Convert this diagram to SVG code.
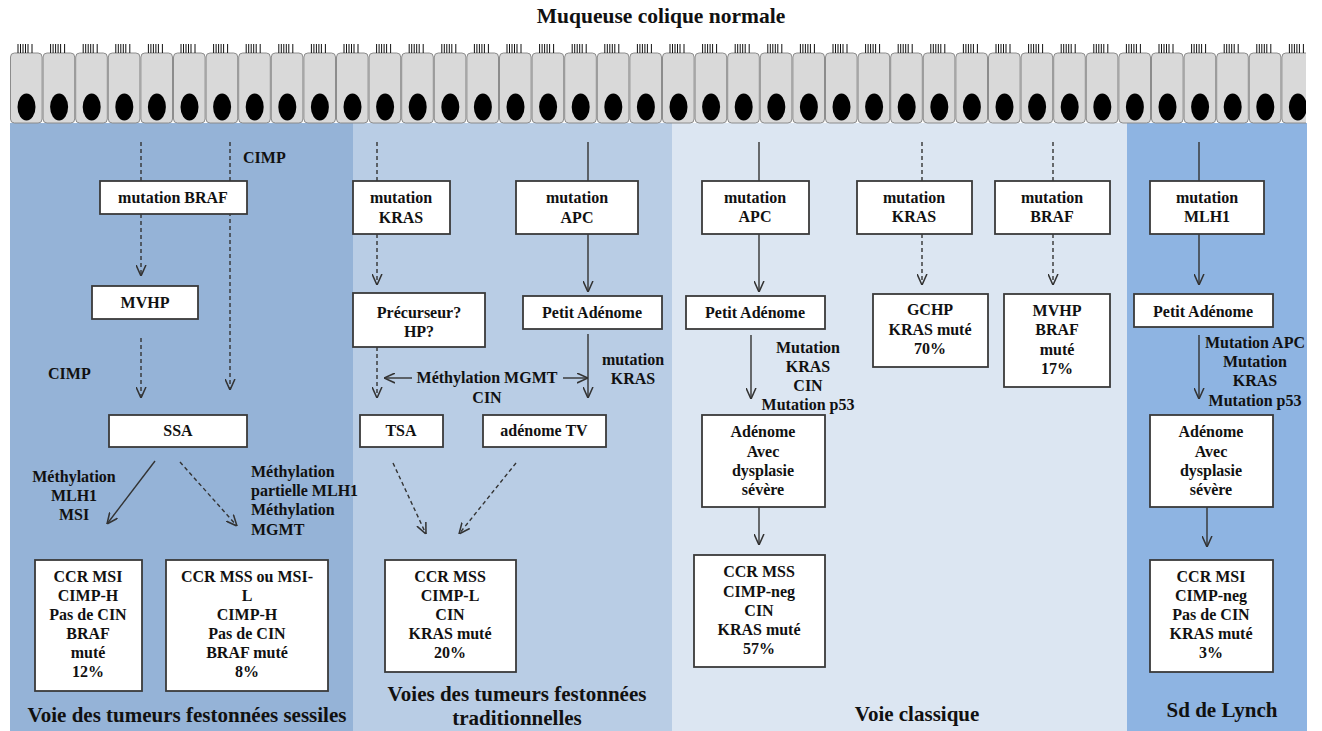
<svg xmlns="http://www.w3.org/2000/svg" width="1322" height="731" viewBox="0 0 1322 731">
<style>
.t{font-family:"Liberation Serif","Times New Roman","DejaVu Serif",serif;font-weight:bold;font-size:16px;fill:#111;text-anchor:middle}
.l{text-anchor:start}
.big{font-size:21px}
.title{font-size:21.5px}
.box{fill:#fff;stroke:#3a3a3a;stroke-width:1.8}
.c{fill:none;stroke:#333;stroke-width:1.4}
.d{stroke-dasharray:4 3}
.cellr{fill:#d9d9d9;stroke:#8c8c8c;stroke-width:1}
.cil{stroke:#111;stroke-width:1}
</style>
<defs>
<marker id="ah" viewBox="0 0 10 10" refX="10" refY="5" markerWidth="11" markerHeight="11" markerUnits="userSpaceOnUse" orient="auto">
<path d="M0,0.5 L10,5 L0,9.5" fill="none" stroke="#333" stroke-width="1.4"/>
</marker>
<g id="cell">
<rect class="cellr" x="0.5" y="0" width="31.6" height="70" rx="4"/>
<ellipse cx="16.5" cy="54" rx="9" ry="13.5" fill="#000"/>
<path class="cil" d="M8,-9V0M10.5,-9V0M13,-9V0M15.5,-9V0M18,-9V0M22,-9V0"/>
</g>
<clipPath id="cp"><rect x="0" y="0" width="1306" height="731"/></clipPath>
</defs>
<rect width="1322" height="731" fill="#fff"/>
<g id="bands">
<rect x="10" y="123" width="343" height="608" fill="#95b3d7"/>
<rect x="353" y="123" width="319" height="608" fill="#b9cde5"/>
<rect x="672" y="123" width="455" height="608" fill="#dce6f2"/>
<rect x="1127" y="123" width="180" height="608" fill="#8eb4e2"/>
</g>
<text class="t title" x="661" y="23">Muqueuse colique normale</text>
<g id="epithelium" clip-path="url(#cp)">
<use href="#cell" x="10" y="53"/><use href="#cell" x="42.6" y="53"/><use href="#cell" x="75.2" y="53"/><use href="#cell" x="107.8" y="53"/><use href="#cell" x="140.4" y="53"/><use href="#cell" x="173" y="53"/><use href="#cell" x="205.6" y="53"/><use href="#cell" x="238.2" y="53"/><use href="#cell" x="270.8" y="53"/><use href="#cell" x="303.4" y="53"/>
<use href="#cell" x="336" y="53"/><use href="#cell" x="368.6" y="53"/><use href="#cell" x="401.2" y="53"/><use href="#cell" x="433.8" y="53"/><use href="#cell" x="466.4" y="53"/><use href="#cell" x="499" y="53"/><use href="#cell" x="531.6" y="53"/><use href="#cell" x="564.2" y="53"/><use href="#cell" x="596.8" y="53"/><use href="#cell" x="629.4" y="53"/>
<use href="#cell" x="662" y="53"/><use href="#cell" x="694.6" y="53"/><use href="#cell" x="727.2" y="53"/><use href="#cell" x="759.8" y="53"/><use href="#cell" x="792.4" y="53"/><use href="#cell" x="825" y="53"/><use href="#cell" x="857.6" y="53"/><use href="#cell" x="890.2" y="53"/><use href="#cell" x="922.8" y="53"/><use href="#cell" x="955.4" y="53"/>
<use href="#cell" x="988" y="53"/><use href="#cell" x="1020.6" y="53"/><use href="#cell" x="1053.2" y="53"/><use href="#cell" x="1085.8" y="53"/><use href="#cell" x="1118.4" y="53"/><use href="#cell" x="1151" y="53"/><use href="#cell" x="1183.6" y="53"/><use href="#cell" x="1216.2" y="53"/><use href="#cell" x="1248.8" y="53"/><use href="#cell" x="1281.4" y="53"/>
</g>
<g id="connectors">
<path class="c d" d="M141,142V181"/>
<path class="c d" d="M141,214V276" marker-end="url(#ah)"/>
<path class="c d" d="M230,142V390" marker-end="url(#ah)"/>
<path class="c d" d="M141,338V398" marker-end="url(#ah)"/>
<path class="c" d="M155,461L107,524" marker-end="url(#ah)"/>
<path class="c d" d="M180,462L237,526" marker-end="url(#ah)"/>
<path class="c d" d="M377,142V181"/>
<path class="c d" d="M377,234V285" marker-end="url(#ah)"/>
<path class="c d" d="M377,347V398" marker-end="url(#ah)"/>
<path class="c" d="M588,142V181"/>
<path class="c" d="M588,234V292" marker-end="url(#ah)"/>
<path class="c" d="M588,334V398" marker-end="url(#ah)"/>
<path class="c" d="M412,378H384" marker-end="url(#ah)"/>
<path class="c" d="M563,378H588" marker-end="url(#ah)"/>
<path class="c d" d="M393,463L426,534" marker-end="url(#ah)"/>
<path class="c d" d="M516,463L459,534" marker-end="url(#ah)"/>
<path class="c" d="M759,142V181"/>
<path class="c" d="M759,234V292" marker-end="url(#ah)"/>
<path class="c" d="M751,335V399" marker-end="url(#ah)"/>
<path class="c" d="M759,507V545" marker-end="url(#ah)"/>
<path class="c d" d="M922,142V181"/>
<path class="c d" d="M922,234V285" marker-end="url(#ah)"/>
<path class="c d" d="M1053,142V181"/>
<path class="c d" d="M1053,234V285" marker-end="url(#ah)"/>
<path class="c" d="M1199,142V181"/>
<path class="c" d="M1199,234V285" marker-end="url(#ah)"/>
<path class="c" d="M1199,335V399" marker-end="url(#ah)"/>
<path class="c" d="M1207,507V547" marker-end="url(#ah)"/>
</g>
<g id="labels">
<text class="t l" x="243" y="163">CIMP</text>
<text class="t l" x="48" y="379">CIMP</text>
<text class="t"><tspan x="74" y="482">Méthylation</tspan><tspan x="74" y="501">MLH1</tspan><tspan x="74" y="520">MSI</tspan></text>
<text class="t l"><tspan x="251" y="477">Méthylation</tspan><tspan x="251" y="496">partielle MLH1</tspan><tspan x="251" y="515">Méthylation</tspan><tspan x="251" y="535">MGMT</tspan></text>
<text class="t"><tspan x="633" y="365">mutation</tspan><tspan x="633" y="384">KRAS</tspan></text>
<text class="t"><tspan x="487" y="383">Méthylation MGMT</tspan><tspan x="487" y="403">CIN</tspan></text>
<text class="t"><tspan x="808" y="353">Mutation</tspan><tspan x="808" y="372">KRAS</tspan><tspan x="808" y="391">CIN</tspan><tspan x="808" y="410">Mutation p53</tspan></text>
<text class="t"><tspan x="1255" y="348">Mutation APC</tspan><tspan x="1255" y="367">Mutation</tspan><tspan x="1255" y="386">KRAS</tspan><tspan x="1255" y="406">Mutation p53</tspan></text>
<text class="t big" x="187" y="722">Voie des tumeurs festonnées sessiles</text>
<text class="t big"><tspan x="517" y="701">Voies des tumeurs festonnées</tspan><tspan x="517" y="725">traditionnelles</tspan></text>
<text class="t big" x="917" y="721">Voie classique</text>
<text class="t big" x="1222" y="717">Sd de Lynch</text>
</g>
<g id="n-braf1"><rect class="box" x="100" y="181" width="147" height="33"/><text class="t" x="173" y="203">mutation BRAF</text></g>
<g id="n-mvhp1"><rect class="box" x="92" y="286" width="106" height="33"/><text class="t" x="145" y="308">MVHP</text></g>
<g id="n-ssa"><rect class="box" x="109" y="415" width="138" height="32"/><text class="t" x="178" y="436">SSA</text></g>
<g id="n-ccr1"><rect class="box" x="35" y="560" width="107" height="131"/><text class="t"><tspan x="88" y="582">CCR MSI</tspan><tspan x="88" y="601">CIMP-H</tspan><tspan x="88" y="620">Pas de CIN</tspan><tspan x="88" y="639">BRAF</tspan><tspan x="88" y="658">muté</tspan><tspan x="88" y="677">12%</tspan></text></g>
<g id="n-ccr2"><rect class="box" x="166" y="560" width="162" height="131"/><text class="t"><tspan x="247" y="582">CCR MSS ou MSI-</tspan><tspan x="247" y="601">L</tspan><tspan x="247" y="620">CIMP-H</tspan><tspan x="247" y="639">Pas de CIN</tspan><tspan x="247" y="658">BRAF muté</tspan><tspan x="247" y="677">8%</tspan></text></g>
<g id="n-kras2"><rect class="box" x="353" y="181" width="97" height="53"/><text class="t"><tspan x="401" y="203">mutation</tspan><tspan x="401" y="223">KRAS</tspan></text></g>
<g id="n-prec"><rect class="box" x="353" y="293" width="132" height="54"/><text class="t"><tspan x="419" y="318">Précurseur?</tspan><tspan x="419" y="337">HP?</tspan></text></g>
<g id="n-apc2"><rect class="box" x="516" y="181" width="122" height="53"/><text class="t"><tspan x="577" y="203">mutation</tspan><tspan x="577" y="223">APC</tspan></text></g>
<g id="n-pa2"><rect class="box" x="523" y="296" width="139" height="33"/><text class="t" x="592" y="318">Petit Adénome</text></g>
<g id="n-tsa"><rect class="box" x="360" y="415" width="83" height="32"/><text class="t" x="401" y="436">TSA</text></g>
<g id="n-tv"><rect class="box" x="483" y="415" width="123" height="32"/><text class="t" x="544" y="436">adénome TV</text></g>
<g id="n-ccr3"><rect class="box" x="385" y="560" width="131" height="112"/><text class="t"><tspan x="450" y="582">CCR MSS</tspan><tspan x="450" y="601">CIMP-L</tspan><tspan x="450" y="620">CIN</tspan><tspan x="450" y="639">KRAS muté</tspan><tspan x="450" y="658">20%</tspan></text></g>
<g id="n-apc3"><rect class="box" x="702" y="181" width="107" height="53"/><text class="t"><tspan x="755" y="203">mutation</tspan><tspan x="755" y="222">APC</tspan></text></g>
<g id="n-pa3"><rect class="box" x="686" y="296" width="139" height="33"/><text class="t" x="755" y="318">Petit Adénome</text></g>
<g id="n-ad3"><rect class="box" x="702" y="415" width="123" height="92"/><text class="t"><tspan x="763" y="437">Adénome</tspan><tspan x="763" y="457">Avec</tspan><tspan x="763" y="476">dysplasie</tspan><tspan x="763" y="495">sévère</tspan></text></g>
<g id="n-ccr4"><rect class="box" x="694" y="555" width="131" height="112"/><text class="t"><tspan x="759" y="577">CCR MSS</tspan><tspan x="759" y="597">CIMP-neg</tspan><tspan x="759" y="616">CIN</tspan><tspan x="759" y="635">KRAS muté</tspan><tspan x="759" y="654">57%</tspan></text></g>
<g id="n-kras3"><rect class="box" x="857" y="181" width="115" height="53"/><text class="t"><tspan x="914" y="203">mutation</tspan><tspan x="914" y="222">KRAS</tspan></text></g>
<g id="n-gchp"><rect class="box" x="873" y="294" width="115" height="73"/><text class="t"><tspan x="930" y="315">GCHP</tspan><tspan x="930" y="335">KRAS muté</tspan><tspan x="930" y="354">70%</tspan></text></g>
<g id="n-braf3"><rect class="box" x="995" y="181" width="115" height="53"/><text class="t"><tspan x="1052" y="203">mutation</tspan><tspan x="1052" y="222">BRAF</tspan></text></g>
<g id="n-mvhp3"><rect class="box" x="1004" y="294" width="106" height="93"/><text class="t"><tspan x="1057" y="316">MVHP</tspan><tspan x="1057" y="335">BRAF</tspan><tspan x="1057" y="355">muté</tspan><tspan x="1057" y="374">17%</tspan></text></g>
<g id="n-mlh1"><rect class="box" x="1150" y="181" width="114" height="53"/><text class="t"><tspan x="1207" y="203">mutation</tspan><tspan x="1207" y="222">MLH1</tspan></text></g>
<g id="n-pa4"><rect class="box" x="1134" y="294" width="139" height="33"/><text class="t" x="1203" y="317">Petit Adénome</text></g>
<g id="n-ad4"><rect class="box" x="1150" y="415" width="123" height="92"/><text class="t"><tspan x="1211" y="437">Adénome</tspan><tspan x="1211" y="457">Avec</tspan><tspan x="1211" y="476">dysplasie</tspan><tspan x="1211" y="495">sévère</tspan></text></g>
<g id="n-ccr5"><rect class="box" x="1150" y="560" width="123" height="112"/><text class="t"><tspan x="1211" y="582">CCR MSI</tspan><tspan x="1211" y="601">CIMP-neg</tspan><tspan x="1211" y="620">Pas de CIN</tspan><tspan x="1211" y="639">KRAS muté</tspan><tspan x="1211" y="658">3%</tspan></text></g>
</svg>
